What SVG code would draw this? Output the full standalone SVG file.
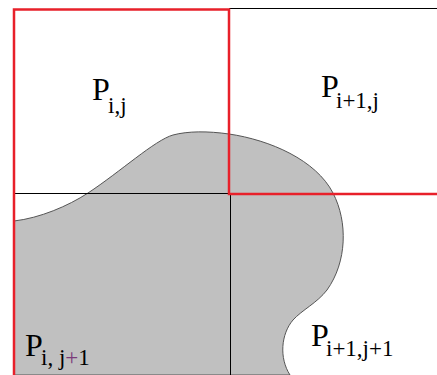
<svg xmlns="http://www.w3.org/2000/svg" width="437" height="375" viewBox="0 0 437 375">
<style>
.g{fill:none;stroke:#000;stroke-width:1}
.r{fill:none;stroke:#e8202a;stroke-width:2.5;stroke-linejoin:miter}
.P{font-family:"Liberation Serif","Times New Roman",serif;font-size:32px;fill:#000}
.s{font-family:"Liberation Serif","Times New Roman",serif;font-size:23px;fill:#000}
</style>
<rect width="437" height="375" fill="#fff"/>
<g id="shape">
<path d="M14,221 C40,218 68,206 88,193 C120,172 155,140 173,135 C188,131 208,131 229,134 C270,140 316,160 333,193 C348,222 347,262 327,290 C317,303 302,310 293,320 C281,334 279,358 290,375 L14,375 Z" fill="#c0c0c0" stroke="#555" stroke-width="1"/>
</g>
<g id="connectors">
<path class="g" d="M229,8.5 H437"/>
<path class="g" d="M14,193.5 H230"/>
<path class="g" d="M230.5,193 V375"/>
<path class="r" d="M14,375 V9.5 H229 V194 H437"/>
</g>
<g id="P_i_j">
<text class="P" x="92" y="100">P</text>
<text class="s" x="108" y="113">i,j</text>
</g>
<g id="P_i1_j">
<text class="P" x="321" y="97">P</text>
<text class="s" x="336" y="108">i+1,j</text>
</g>
<g id="P_i_j1">
<text class="P" x="25" y="356">P</text>
<text class="s" x="41" y="365">i, j<tspan fill="#7a3a7a">+</tspan>1</text>
</g>
<g id="P_i1_j1">
<text class="P" x="311" y="346">P</text>
<text class="s" x="326" y="356">i+1,j+1</text>
</g>
</svg>
